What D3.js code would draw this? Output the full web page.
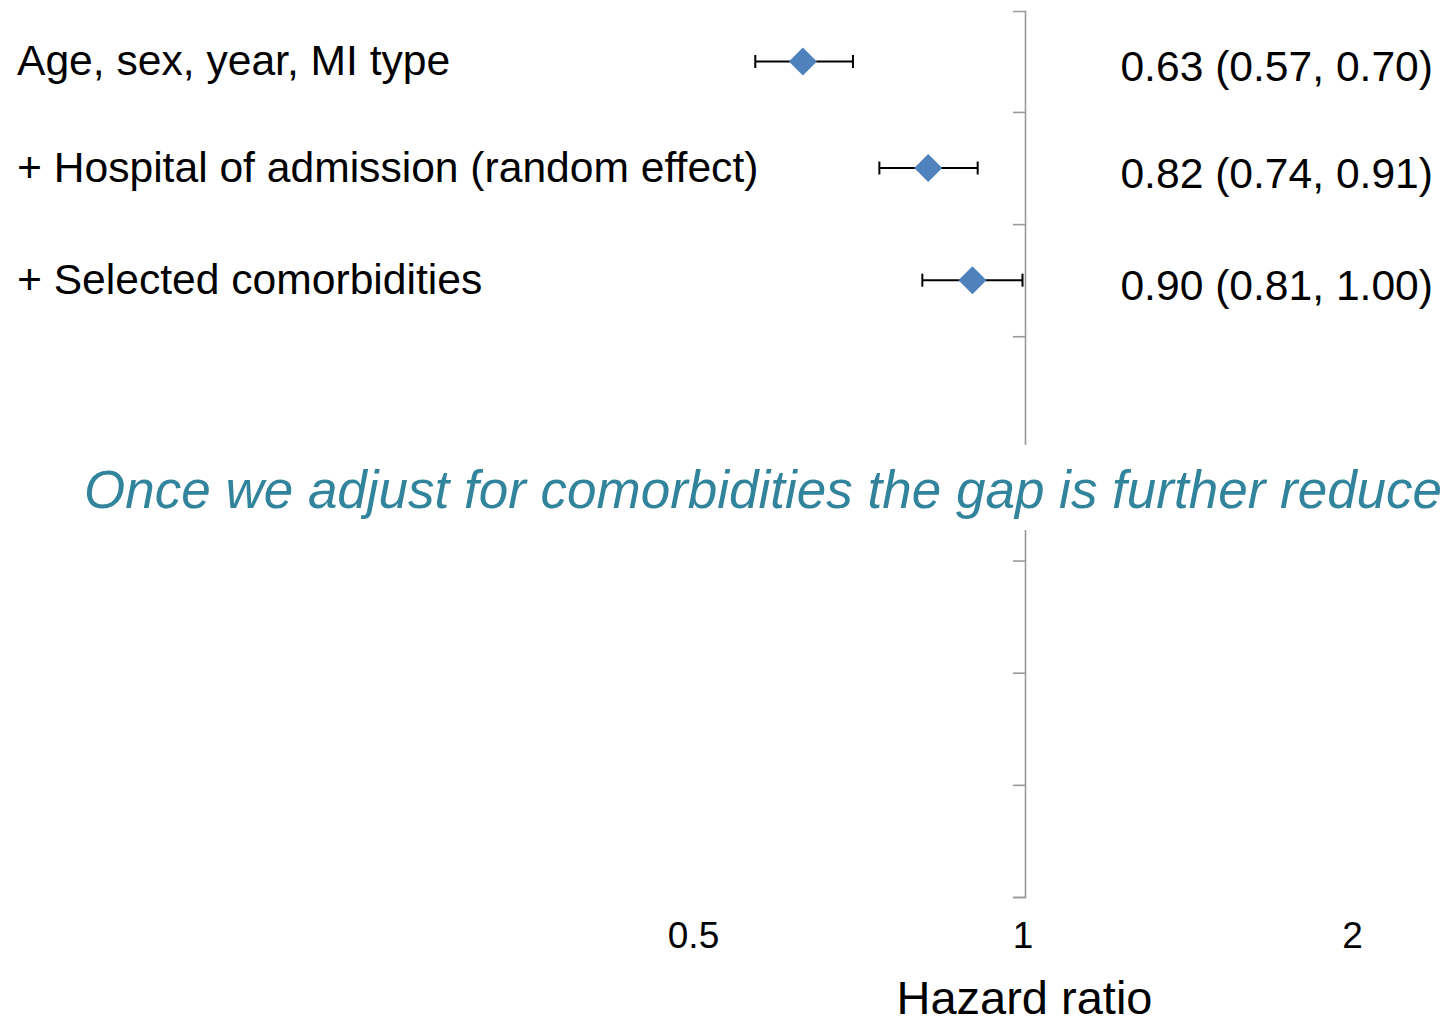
<!DOCTYPE html>
<html>
<head>
<meta charset="utf-8">
<script src="https://cdn.jsdelivr.net/npm/d3@7"></script>
<style>
  body { margin: 0; background: #fff; }
  svg { display: block; font-family: "Liberation Sans", Arial, sans-serif; }
</style>
</head>
<body>
<svg id="chart"></svg>
<script>
var svg_width = 1443, svg_height = 1018;

// model rows, top to bottom
var models = ["Age, sex, year, MI type", "+ Hospital of admission (random effect)", "+ Selected comorbidities"];
var hr = [0.63, 0.82, 0.90];
var lower = [0.57, 0.74, 0.81];
var upper = [0.70, 0.91, 1.00];
var hrLabels = ["0.63 (0.57, 0.70)", "0.82 (0.74, 0.91)", "0.90 (0.81, 1.00)"];
var xTicks = [0.5, 1, 2];
var rowSlots = [1, 2, 3, 4, 5, 6, 7, 8];
var caption = "Once we adjust for comorbidities the gap is further reduced";

var x = d3.scaleLog().base(2).domain([0.5, 2]).range([693, 1352]);
// row slots; the top one is a little shorter
var y = d3.scaleLinear().domain([0.1, 8]).range([11, 897]);

function rowY(i) {
	var top = Math.max(i, 0.1);
	return y((top + i + 1) / 2);
}

var svg = d3.select("#chart")
	.attr("width", svg_width)
	.attr("height", svg_height);

// vertical reference line at HR = 1 with row ticks
var axisX = x(1) + 2.5;
svg.append("g")
	.attr("class", "y_axis")
	.attr("transform", "translate(" + axisX + ",0)")
	.call(d3.axisLeft(y).tickValues(rowSlots).tickSize(12).tickSizeOuter(12).tickFormat(""))
	.call(function (g) {
		g.selectAll("path, line").attr("stroke", "#999").attr("stroke-width", 1.6);
	});

// confidence intervals
var ci = svg.append("g").attr("class", "ci");
models.forEach(function (m, i) {
	var cy = rowY(i);
	ci.append("line")
		.attr("x1", x(lower[i])).attr("x2", x(upper[i]))
		.attr("y1", cy).attr("y2", cy)
		.attr("stroke", "#000").attr("stroke-width", 2);
	[lower[i], upper[i]].forEach(function (v) {
		ci.append("line")
			.attr("x1", x(v)).attr("x2", x(v))
			.attr("y1", cy - 6.5).attr("y2", cy + 6.5)
			.attr("stroke", "#000").attr("stroke-width", 2);
	});
});

// point estimates
var diamond = d3.symbol().type(d3.symbolSquare).size(392);
svg.append("g")
	.selectAll("path")
	.data(hr)
	.enter().append("path")
	.attr("d", diamond)
	.attr("transform", function (d, i) { return "translate(" + x(d) + "," + rowY(i) + ") rotate(45)"; })
	.attr("fill", "#4F81BD");

// row labels
svg.append("g")
	.selectAll("text")
	.data(models)
	.enter().append("text")
	.attr("x", 17)
	.attr("y", function (d, i) { return rowY(i) + 14; })
	.attr("font-size", 42.6)
	.attr("fill", "#000")
	.text(function (d) { return d; });

svg.append("g")
	.selectAll("text")
	.data(hrLabels)
	.enter().append("text")
	.attr("x", 1433)
	.attr("y", function (d, i) { return rowY(i) + 20; })
	.attr("text-anchor", "end")
	.attr("font-size", 42.6)
	.attr("fill", "#000")
	.text(function (d) { return d; });

// x axis (no line, labels only)
svg.append("g")
	.attr("class", "x_axis")
	.attr("transform", "translate(0,922)")
	.call(d3.axisBottom(x).tickValues(xTicks).tickSize(0).tickPadding(0).tickFormat(d3.format("")))
	.call(function (g) {
		g.select(".domain").remove();
		g.selectAll("text")
			.attr("font-size", 37)
			.attr("font-family", "Liberation Sans, Arial, sans-serif")
			.attr("fill", "#000");
	});

svg.append("text")
	.attr("x", x(1) + 2)
	.attr("y", 1014)
	.attr("text-anchor", "middle")
	.attr("font-size", 47)
	.attr("fill", "#000")
	.text("Hazard ratio");

// caption box over the reference line
svg.append("rect")
	.attr("x", 0).attr("y", 445)
	.attr("width", svg_width).attr("height", 85)
	.attr("fill", "#fff");

svg.append("text")
	.attr("x", 84)
	.attr("y", 508)
	.attr("font-size", 53)
	.attr("font-style", "italic")
	.attr("fill", "#31849B")
	.text(caption);
</script>
</body>
</html>
